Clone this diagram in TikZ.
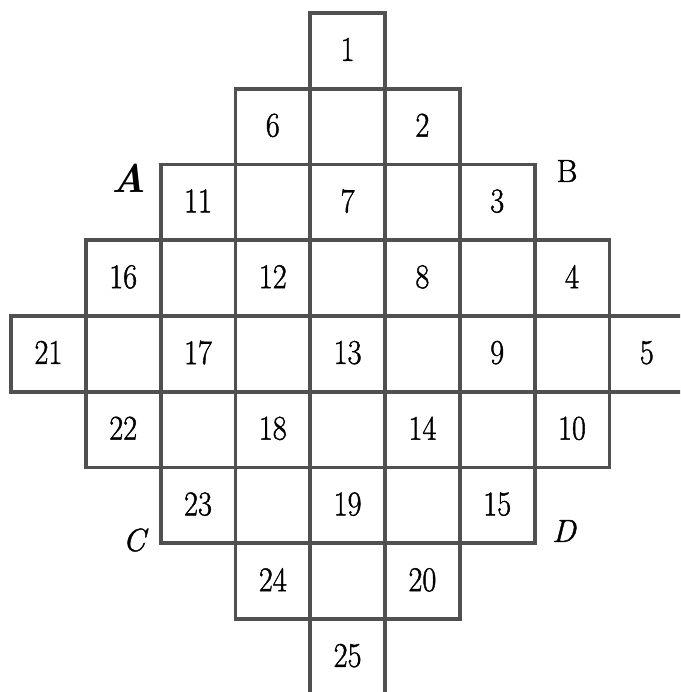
\documentclass[tikz,border=0pt]{standalone}
\usepackage{fontspec}
\setmainfont{Latin Modern Roman}[UprightFeatures={FakeBold=1.3},ItalicFeatures={FakeBold=1.3}]
\newcommand{\dg}[1]{\raisebox{3pt}{\scalebox{0.92}[1.05]{#1}}}
\begin{document}
\begin{tikzpicture}[x=1pt,y=-1pt,
  cell/.style={draw=gridgray,line width=3.8pt,minimum width=74.8pt,minimum height=75.75pt,
    inner sep=0pt,outer sep=0pt,font=\fontsize{33}{35}\selectfont},
  corner/.style={inner sep=0pt,font=\fontsize{32}{34}\selectfont}]
\definecolor{gridgray}{HTML}{505050}
\useasboundingbox (0,0) rectangle (680,692);
\clip (0,0) rectangle (680,692);
\foreach \r/\c/\t in {0/4/1,
  1/3/6, 1/4/{}, 1/5/2,
  2/2/11, 2/3/{}, 2/4/7, 2/5/{}, 2/6/3,
  3/1/16, 3/2/{}, 3/3/12, 3/4/{}, 3/5/8, 3/6/{}, 3/7/4,
  4/0/21, 4/1/{}, 4/2/17, 4/3/{}, 4/4/13, 4/5/{}, 4/6/9, 4/7/{}, 4/8/5,
  5/1/22, 5/2/{}, 5/3/18, 5/4/{}, 5/5/14, 5/6/{}, 5/7/10,
  6/2/23, 6/3/{}, 6/4/19, 6/5/{}, 6/6/15,
  7/3/24, 7/4/{}, 7/5/20,
  8/4/25}
  \node[cell] (cell-\r-\c) at ({11+74.8*(\c+0.5)},{13+75.75*(\r+0.5)}) {\dg{\t}};
\node[corner,font=\fontsize{40}{42}\selectfont\bfseries\itshape] (A) at (129,178) {A};
\node[corner] (B) at (567,171) {B};
\node[corner,font=\fontsize{32}{34}\selectfont\itshape] (C) at (134,540) {C};
\node[corner,font=\fontsize{32}{34}\selectfont\itshape] (D) at (564,531) {D};
\end{tikzpicture}
\end{document}
